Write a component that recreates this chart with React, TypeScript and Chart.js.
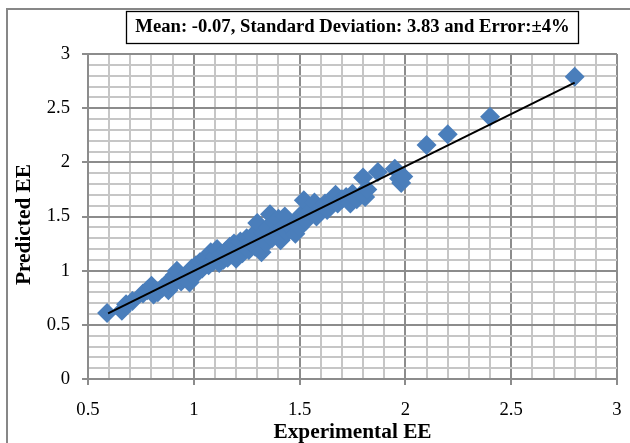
import React, { useEffect, useRef } from "react";
import { Chart, registerables } from "chart.js";

Chart.register(...registerables);

// ---------- data ----------
const experimentalEE = [
  0.59, 0.66, 0.68, 0.71, 0.76, 0.78, 0.80, 0.81, 0.83, 0.85, 0.87, 0.88, 0.90, 0.91, 0.92, 0.94,
  0.95, 0.97, 0.98, 0.99, 1.00, 1.01, 1.02, 1.03, 1.04, 1.05, 1.06, 1.07, 1.08, 1.09, 1.10, 1.11,
  1.12, 1.13, 1.14, 1.15, 1.16, 1.17, 1.18, 1.19, 1.20, 1.21, 1.22, 1.23, 1.24, 1.25, 1.26, 1.27,
  1.28, 1.29, 1.30, 1.31, 1.32, 1.33, 1.34, 1.35, 1.36, 1.37, 1.38, 1.39, 1.40, 1.41, 1.42, 1.43,
  1.44, 1.45, 1.46, 1.48, 1.49, 1.50, 1.51, 1.52, 1.53, 1.55, 1.57, 1.58, 1.60, 1.62, 1.63, 1.65,
  1.67, 1.68, 1.70, 1.72, 1.74, 1.75, 1.77, 1.79, 1.80, 1.81, 1.82, 1.87, 1.95, 1.97, 1.98, 1.99,
  2.10, 2.20, 2.40, 2.80,
];
const predictedEE = [
  0.61, 0.63, 0.69, 0.72, 0.79, 0.82, 0.86, 0.78, 0.80, 0.84, 0.88, 0.82, 0.87, 0.96, 1.00, 0.90,
  0.93, 0.97, 0.89, 1.02, 0.95, 1.05, 0.99, 1.08, 1.02, 1.10, 1.12, 1.05, 1.17, 1.08, 1.13, 1.20,
  1.07, 1.15, 1.10, 1.18, 1.12, 1.22, 1.15, 1.25, 1.11, 1.20, 1.27, 1.16, 1.23, 1.30, 1.19, 1.26,
  1.33, 1.22, 1.44, 1.28, 1.17, 1.35, 1.25, 1.40, 1.52, 1.30, 1.45, 1.36, 1.48, 1.28, 1.40, 1.50,
  1.35, 1.44, 1.40, 1.34, 1.47, 1.40, 1.52, 1.65, 1.46, 1.55, 1.63, 1.50, 1.58, 1.62, 1.56, 1.64,
  1.70, 1.62, 1.66, 1.68, 1.62, 1.71, 1.66, 1.70, 1.86, 1.68, 1.75, 1.91, 1.94, 1.85, 1.81, 1.87,
  2.16, 2.26, 2.42, 2.79,
];
const trendX = [0.595, 2.8];
const trendY = [0.605, 2.735];

const xMin = 0.5;
const xMax = 3;
const yMin = 0;
const yMax = 3;
const minorStep = 0.1;

const titleText = "Mean: -0.07, Standard Deviation: 3.83 and Error:\u00B14%";
const xTitle = "Experimental EE";
const yTitle = "Predicted EE";

// ---------- styles ----------
const FONT = "'Liberation Serif', 'Times New Roman', serif";
const MARKER = "#4A7EBB";
const MAJOR = "#8C8C8C";
const MINOR = "#C6C6C6";

const isMajor = (v: number) => Math.abs(v * 2 - Math.round(v * 2)) < 1e-6;
const fmt = (v: number) => String(Math.round(v * 10) / 10);

const framePlugin = {
  id: "frame",
  beforeDraw(chart: any) {
    const ctx = chart.ctx;
    ctx.save();
    ctx.fillStyle = "#ffffff";
    ctx.fillRect(0, 0, chart.width, chart.height);
    ctx.strokeStyle = "#878787";
    ctx.lineWidth = 2;
    ctx.beginPath();
    ctx.moveTo(7, chart.height + 5);
    ctx.lineTo(7, 9);
    ctx.lineTo(chart.width + 5, 9);
    ctx.stroke();
    ctx.restore();
  },
  afterDraw(chart: any) {
    const ctx = chart.ctx;
    const ca = chart.chartArea;
    ctx.save();
    ctx.font = `bold 18.67px ${FONT}`;
    const w = ctx.measureText(titleText).width;
    const cx = (ca.left + ca.right) / 2;
    ctx.strokeStyle = "#000000";
    ctx.lineWidth = 1.3;
    ctx.strokeRect(Math.round(cx - w / 2 - 9) + 0.5, 11.5, Math.round(w + 18), 32);
    ctx.restore();
  },
};

export default function App() {
  const ref = useRef<HTMLCanvasElement | null>(null);

  useEffect(() => {
    if (!ref.current) return;
    const scatterData = experimentalEE.map((x, i) => ({ x, y: predictedEE[i] }));
    const trendData = trendX.map((x, i) => ({ x, y: trendY[i] }));

    const chart = new Chart(ref.current, {
      type: "scatter",
      data: {
        datasets: [
          {
            type: "line",
            label: "trend",
            data: trendData,
            borderColor: "#000000",
            borderWidth: 2,
            pointRadius: 0,
            fill: false,
          } as any,
          {
            label: "EE",
            data: scatterData,
            pointStyle: "rectRot",
            pointRadius: 10,
            pointHoverRadius: 10,
            backgroundColor: MARKER,
            borderColor: MARKER,
            borderWidth: 0,
          },
        ],
      },
      plugins: [framePlugin],
      options: {
        responsive: false,
        animation: false,
        events: [],
        layout: { padding: { left: 0, right: 13, top: 0, bottom: 0 } },
        plugins: {
          legend: { display: false },
          tooltip: { enabled: false },
          title: {
            display: true,
            text: titleText,
            fullSize: false,
            color: "#000000",
            font: { family: FONT, size: 18.67, weight: "bold", lineHeight: 1.2 },
            padding: { top: 16, bottom: 15.6 },
          } as any,
        },
        scales: {
          x: {
            type: "linear",
            min: xMin,
            max: xMax,
            afterFit: (s: any) => {
              s.height = 64;
              s.paddingLeft = 0;
              s.paddingRight = 0;
            },
            ticks: {
              stepSize: minorStep,
              autoSkip: false,
              maxRotation: 0,
              padding: 14,
              color: "#000000",
              font: { family: FONT, size: 18.67 },
              callback: (v: any) => (isMajor(Number(v)) ? fmt(Number(v)) : ""),
            },
            grid: {
              color: (c: any) => (isMajor(c.tick.value) ? MAJOR : MINOR),
              lineWidth: 2,
              tickLength: 6,
              tickColor: (c: any) => (isMajor(c.tick.value) ? MAJOR : "rgba(0,0,0,0)"),
            },
            border: { color: MAJOR, width: 2 },
            title: {
              display: true,
              text: xTitle,
              color: "#000000",
              font: { family: FONT, size: 21.33, weight: "bold", lineHeight: 1 },
              padding: { top: 0, bottom: 0 },
            },
          },
          y: {
            type: "linear",
            min: yMin,
            max: yMax,
            afterFit: (s: any) => {
              s.width = 88;
              s.paddingTop = 0;
              s.paddingBottom = 0;
            },
            ticks: {
              stepSize: minorStep,
              autoSkip: false,
              padding: 12,
              color: "#000000",
              font: { family: FONT, size: 18.67 },
              callback: (v: any) => (isMajor(Number(v)) ? fmt(Number(v)) : ""),
            },
            grid: {
              color: (c: any) => (isMajor(c.tick.value) ? MAJOR : MINOR),
              lineWidth: 2,
              tickLength: 6,
              tickColor: (c: any) => (isMajor(c.tick.value) ? MAJOR : "rgba(0,0,0,0)"),
            },
            border: { color: MAJOR, width: 2 },
            title: {
              display: true,
              text: yTitle + "\u00A0\u00A0\u00A0",
              color: "#000000",
              font: { family: FONT, size: 21.33, weight: "bold", lineHeight: 1 },
              padding: { top: 14, bottom: 0 },
            },
          },
        },
      },
    });
    return () => chart.destroy();
  }, []);

  return (
    <div style={{ position: "fixed", left: 0, top: 0, width: 630, height: 443, background: "#fff" }}>
      <canvas ref={ref} width={630} height={443} style={{ width: 630, height: 443, display: "block" }} />
    </div>
  );
}
